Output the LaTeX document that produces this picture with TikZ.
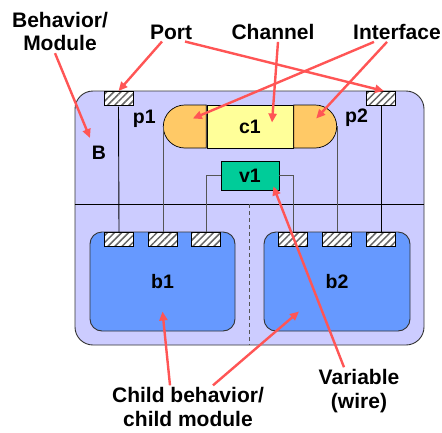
\documentclass[tikz,border=0pt]{standalone}
\usepackage{fontspec}
\setmainfont{Liberation Sans}
\usetikzlibrary{positioning}
\usetikzlibrary{shapes.misc}
\usetikzlibrary{patterns.meta}
\usetikzlibrary{arrows.meta}

\definecolor{bhvfill}{HTML}{CCCCFF}
\definecolor{childfill}{HTML}{6699FF}
\definecolor{chanfill}{HTML}{FFFF99}
\definecolor{iffill}{HTML}{FFC966}
\definecolor{varfill}{HTML}{00CC99}
\definecolor{notered}{HTML}{FF5555}
\definecolor{wiregray}{HTML}{555555}

\tikzset{
	bhv/.style={draw=black!80, line width=0.9pt, fill=bhvfill, rounded corners=18pt, inner sep=0pt},
	child/.style={draw=black!80, line width=0.9pt, fill=childfill, rounded corners=12pt, inner sep=0pt, minimum height=99pt, font=\lbl},
	port/.style={draw=black, line width=0.7pt, minimum width=29pt, minimum height=14pt, inner sep=0pt,
		preaction={fill=white}, pattern={Lines[angle=45,distance=5pt,line width=1.5pt]}, pattern color=black!60},
	chan/.style={draw=black, line width=0.7pt, fill=chanfill, minimum width=86pt, minimum height=43pt, inner sep=0pt, font=\lbl},
	iface/.style={draw=black, line width=0.7pt, fill=iffill, rounded rectangle, minimum width=30pt, minimum height=43pt, inner sep=0pt},
	var/.style={draw=black, line width=0.7pt, fill=varfill, minimum width=58pt, minimum height=29pt, inner sep=0pt, font=\lbl},
	wire/.style={draw=wiregray, line width=0.8pt},
	pwire/.style={draw=black, line width=0.9pt},
	tag/.style={inner sep=1pt, font=\lbl},
	anno/.style={inner sep=2pt, align=center, font=\annofont},
	note/.style={draw=notered, line width=2.4pt, -{Triangle[length=9pt,width=8pt]}}
}
\newcommand{\lbl}{\bfseries\fontsize{19.5}{24}\selectfont}
\newcommand{\annofont}{\bfseries\fontsize{21}{23.5}\selectfont}

\begin{document}
\begin{tikzpicture}[x=1pt, y=-1pt]
	\useasboundingbox (0,0) rectangle (442,432);

	% Parent behavior
	\node [bhv, minimum width=349pt, minimum height=254pt] at (249.5,218) (B) {};
	\coordinate (divL) at (B.west |- 0,204);
	\coordinate (divR) at (B.east |- 0,204);
	\draw [black, line width=0.9pt] (divL) -- (divR);
	\draw [wiregray, line width=0.9pt, dash pattern=on 4pt off 3pt] (B.south |- divL) -- (B.south);
	\node [tag] at (99,153) (Blbl) {B};

	% Channel, interfaces and variable
	\node [chan] at (250,126.5) (c1) {c1};
	\node [iface, rounded rectangle right arc=none, left=0pt of c1] (ifL) {};
	\node [iface, rounded rectangle left arc=none, right=0pt of c1] (ifR) {};
	\node [var] at (250,175.5) (v1) {v1};

	% Child behaviors
	\node [child, minimum width=145pt] at (162.5,281.5) (b1) {b1};
	\node [child, minimum width=146pt] at (337,281.5) (b2) {b2};

	% Ports
	\node [port, anchor=north] at (118.5,91) (p1) {};
	\node [port, anchor=north] at (381,91) (p2) {};
	\node [port, anchor=north] at (119,232) (b1a) {};
	\node [port, anchor=north] at (163,232) (b1b) {};
	\node [port, anchor=north] at (206,232) (b1c) {};
	\node [port, anchor=north] at (293,232) (b2a) {};
	\node [port, anchor=north] at (337,232) (b2b) {};
	\node [port, anchor=north] at (381,232) (b2c) {};
	\node [tag, below right=2pt and -2pt of p1.south east] (p1lbl) {p1};
	\node [tag, below left=2pt and -3pt of p2.south west] (p2lbl) {p2};

	% Wires
	\draw [pwire] (p1.south) -- (b1a.north);
	\draw [wire] (ifL.west) -| (b1b.north);
	\draw [wire] (v1.west) -| (b1c.north);
	\draw [wire] (v1.east) -| (b2a.north);
	\draw [wire] (ifR.east) -| (b2b.north);
	\draw [pwire] (p2.south) -- (b2c.north);

	% Annotations
	\node [anno] at (60,31.5) (tBhv) {Behavior/\\Module};
	\node [anno] at (171,32) (tPort) {Port};
	\node [anno] at (273,32) (tChan) {Channel};
	\node [anno] at (397,32) (tIf) {Interface};
	\node [anno] at (188,407) (tChild) {Child behavior/\\child module};
	\node [anno] at (359,391) (tVar) {Variable\\(wire)};

	\draw [note] ([xshift=-5pt]tBhv.south) -- ([xshift=-9pt,yshift=15pt]Blbl.center);
	\draw [note] ([xshift=-9pt]tPort.south) -- (p1.north);
	\draw [note] ([xshift=14pt]tPort.south) -- ([xshift=3pt]p2.north);
	\draw [note] ([xshift=5pt]tChan.south) -- ([xshift=22pt,yshift=4pt]c1.center);
	\draw [note] ([xshift=-23pt]tIf.south) -- ([xshift=8pt,yshift=8pt]ifL.center);
	\draw [note] ([xshift=-10pt]tIf.south) -- ([xshift=1pt,yshift=8pt]ifR.center);
	\draw [note] ([xshift=-18pt]tChild.north) -- ([yshift=-30pt]b1.center);
	\draw [note] ([xshift=25pt]tChild.north) -- ([xshift=-38pt,yshift=-30pt]b2.center);
	\draw [note] ([xshift=-15pt]tVar.north) -- ([xshift=-6pt,yshift=4pt]v1.south east);
\end{tikzpicture}
\end{document}
